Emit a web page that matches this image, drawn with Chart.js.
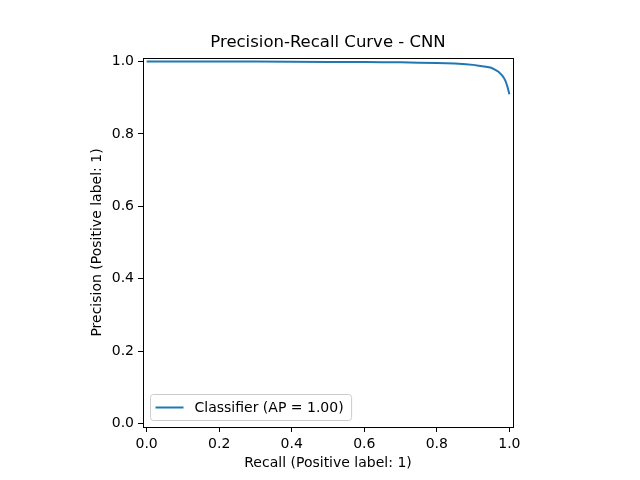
<!DOCTYPE html>
<html lang="en">
<head>
    <meta charset="UTF-8">
    <title>Precision-Recall Curve - CNN</title>
    <script src="https://cdn.jsdelivr.net/npm/chart.js"></script>
    <style>
        html, body { margin: 0; padding: 0; background: #fff; }
        #wrap { width: 640px; height: 480px; }
    </style>
</head>
<body>
    <div id="wrap"><canvas id="prChart" width="640" height="480"></canvas></div>
    <script>
        // values
        var recall = [0, 0.1, 0.2, 0.3, 0.4, 0.5, 0.6, 0.65, 0.7, 0.75, 0.8, 0.85, 0.88, 0.9, 0.92, 0.94, 0.95, 0.96, 0.97, 0.98, 0.985, 0.99, 0.995, 1.0];
        var precision = [1.0, 1.0, 1.0, 1.0, 0.9995, 0.999, 0.999, 0.998, 0.998, 0.997, 0.996, 0.995, 0.993, 0.991, 0.988, 0.985, 0.983, 0.978, 0.972, 0.962, 0.955, 0.945, 0.93, 0.91];
        var xTicks = [0, 0.2, 0.4, 0.6, 0.8, 1.0];
        var yTicks = [0, 0.2, 0.4, 0.6, 0.8, 1.0];
        var seriesLabel = 'Classifier (AP = 1.00)';
        var chartTitle = 'Precision-Recall Curve - CNN';

        Chart.defaults.font.family = '"DejaVu Sans", sans-serif';
        Chart.defaults.color = '#000';

        var points = recall.map(function (r, i) { return { x: r, y: precision[i] }; });

        // title over the plot area, frame around it, legend box inside lower left
        var framePlugin = {
            id: 'frame',
            afterDraw: function (chart) {
                var ctx = chart.ctx, a = chart.chartArea;
                ctx.save();
                ctx.strokeStyle = '#000';
                ctx.lineWidth = 1;
                ctx.strokeRect(a.left + 0.5, a.top + 0.5, a.right - a.left, a.bottom - a.top);

                // title
                ctx.font = '16.5px "DejaVu Sans", sans-serif';
                ctx.fillStyle = '#000';
                ctx.textAlign = 'center';
                ctx.textBaseline = 'middle';
                ctx.fillText(chartTitle, (a.left + a.right) / 2, 43);

                // legend
                ctx.textAlign = 'left';
                ctx.font = '14px "DejaVu Sans", sans-serif';
                var label = chart.data.datasets[0].label;
                var tw = ctx.measureText(label).width;
                var bx = a.left + 7.5, by = a.bottom - 32.5, bw = tw + 52, bh = 26;
                ctx.beginPath();
                ctx.roundRect(bx, by, bw, bh, 3);
                ctx.fillStyle = 'rgba(255,255,255,0.8)';
                ctx.fill();
                ctx.strokeStyle = '#cccccc';
                ctx.stroke();
                ctx.beginPath();
                ctx.moveTo(bx + 5, by + 13);
                ctx.lineTo(bx + 33, by + 13);
                ctx.strokeStyle = '#1f77b4';
                ctx.lineWidth = 2;
                ctx.stroke();
                ctx.fillStyle = '#000';
                ctx.fillText(label, bx + 44, by + 13.5);
                ctx.restore();
            }
        };

        var ctx = document.getElementById('prChart').getContext('2d');
        var prChart = new Chart(ctx, {
            type: 'line',
            data: {
                datasets: [{
                    label: seriesLabel,
                    data: points,
                    borderColor: '#1f77b4',
                    borderWidth: 2,
                    pointRadius: 0,
                    fill: false,
                    tension: 0
                }]
            },
            options: {
                responsive: false,
                animation: false,
                layout: { padding: { left: 83, right: 127, top: 58, bottom: 0 } },
                plugins: {
                    legend: { display: false },
                    tooltip: { enabled: false },
                    title: { display: false }
                },
                scales: {
                    x: {
                        type: 'linear',
                        min: -0.01,
                        max: 1.01,
                        afterBuildTicks: function (s) { s.ticks = xTicks.map(function (v) { return { value: v }; }); },
                        afterFit: function (s) { s.height = 53; },
                        ticks: {
                            font: { size: 14 },
                            padding: 4,
                            maxRotation: 0,
                            callback: function (v) { return v.toFixed(1); }
                        },
                        grid: { drawOnChartArea: false, drawTicks: true, tickLength: 5, tickColor: '#000' },
                        border: { display: false },
                        title: {
                            display: true,
                            text: 'Recall (Positive label: 1)',
                            font: { size: 14 },
                            padding: { top: 2, bottom: 8 }
                        }
                    },
                    y: {
                        type: 'linear',
                        min: -0.01,
                        max: 1.01,
                        afterBuildTicks: function (s) { s.ticks = yTicks.map(function (v) { return { value: v }; }); },
                        afterFit: function (s) { s.width = 60; },
                        ticks: {
                            font: { size: 14 },
                            padding: 4,
                            callback: function (v) { return v.toFixed(1); }
                        },
                        grid: { drawOnChartArea: false, drawTicks: true, tickLength: 5, tickColor: '#000' },
                        border: { display: false },
                        title: {
                            display: true,
                            text: 'Precision (Positive label: 1)',
                            font: { size: 14 },
                            padding: { top: 6, bottom: 2 }
                        }
                    }
                }
            },
            plugins: [framePlugin]
        });
    </script>
</body>
</html>
